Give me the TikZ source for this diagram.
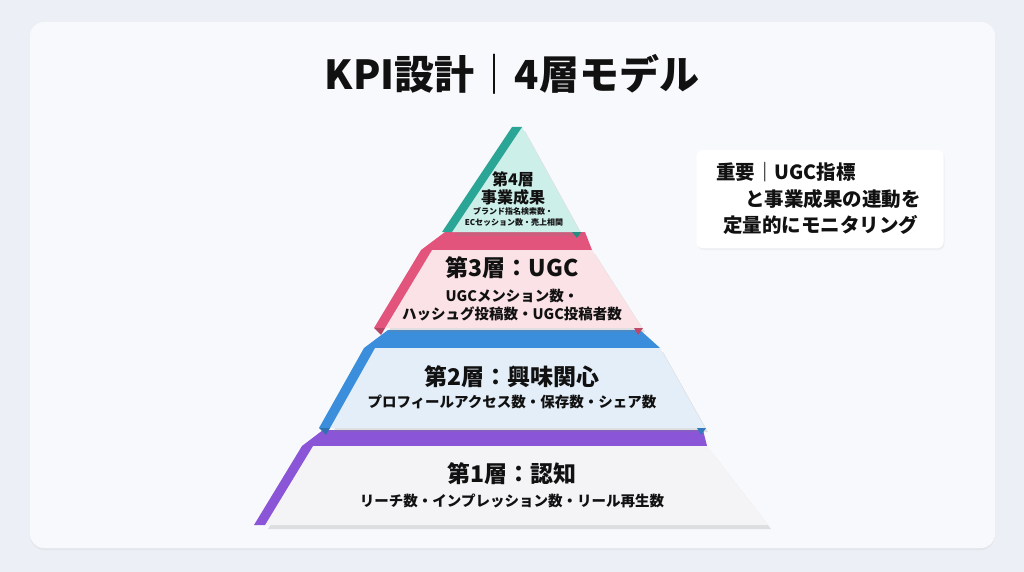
\documentclass[tikz,border=0pt]{standalone}
\usepackage{fontspec}
\setmainfont{Noto Sans CJK JP}
\usetikzlibrary{shadows}

\definecolor{pagebg}{HTML}{EDEFF6}
\definecolor{cardbg}{HTML}{F8F9FC}
\definecolor{tealc}{HTML}{2AA596}
\definecolor{pinkc}{HTML}{E2547C}
\definecolor{bluec}{HTML}{3B8EDC}
\definecolor{purplec}{HTML}{8B55D8}
\definecolor{tealface}{HTML}{CDEFEA}
\definecolor{pinkface}{HTML}{FAE2E6}
\definecolor{blueface}{HTML}{E3EEF8}
\definecolor{purpleface}{HTML}{F4F4F7}
\definecolor{ink}{HTML}{111111}

\tikzset{
    face/.style={drop shadow={shadow xshift=3pt,shadow yshift=-4pt,opacity=0.22}},
    title/.style={font=\bfseries\fontsize{40}{48}\selectfont, text=ink},
    head/.style={font=\bfseries\fontsize{23}{28}\selectfont, text=ink},
    sub/.style={font=\bfseries\fontsize{14.5}{18}\selectfont, text=ink},
    tiny/.style={font=\bfseries\fontsize{8}{10}\selectfont, text=ink},
    notetext/.style={font=\bfseries\fontsize{19.5}{24}\selectfont, text=ink, anchor=west, inner sep=0pt},
}

\begin{document}
\begin{tikzpicture}[x=1pt,y=-1pt]
    \useasboundingbox (0,0) rectangle (1024,572);
    % Background
    \fill[pagebg] (0,0) rectangle (1024,572);
    \fill[cardbg, rounded corners=14pt, drop shadow={shadow xshift=0pt,shadow yshift=-2pt,opacity=0.08}]
        (30,22) rectangle (995,548);

    % Title
    \node[title] (title) at (512,74) {KPI設計｜4層モデル};

    % Layers 1-3: band, strip, face
    % \c/\f = colours, \t/\b = top/bottom, \a/\cc = face top x, \d/\e = face bottom x, \u/\p/\q = band
    \foreach \c/\f/\t/\b/\a/\cc/\d/\e/\u/\p/\q in {
        purplec/purpleface/446/525/313/707/265/768/430/323/703,
        bluec/blueface/348/428/375/660/330/705/330/388/640,
        pinkc/pinkface/250/328/432/592/385/642/232/445/585} {
        \fill[\c] (\p,\u) -- (\q,\u) -- (\cc,\t) -- (\a-11,\t) -- cycle;
        \fill[\f, face] (\a,\t) -- (\cc,\t) -- (\e,\b) -- (\d,\b) -- cycle;
        \fill[\c] (\a-11,\t) -- (\a,\t) -- (\d,\b) -- (\d-11,\b) -- cycle;
    }
    % folds at the bottom corners
    \foreach \c/\b/\d/\e in {bluec/428/330/705, pinkc/328/385/642} {
        \fill[\c!80!black] (\d-11,\b) -- (\d,\b) -- (\d-4,\b+7) -- cycle;
        \fill[\c!85!black] (\e-8,\b) -- (\e+1,\b) -- (\e-4,\b+7) -- cycle;
    }

    % Layer 4 (top)
    \fill[tealface, face] (522,127) -- (580,232) -- (452,232) -- cycle;
    \fill[tealc] (512,127) -- (522,127) -- (452,232) -- (442,232) -- cycle;
    \fill[tealc!85!black] (572,232) -- (581,232) -- (577,238) -- cycle;

    % Layer texts
    \node[font=\bfseries\fontsize{16}{19}\selectfont, text=ink] (l4-head) at (513,179) {第4層};
    \node[font=\bfseries\fontsize{16}{19}\selectfont, text=ink] (l4-name) at (513,197) {事業成果};
    \node[tiny] (l4-sub1) at (513,211) {ブランド指名検索数・};
    \node[tiny] (l4-sub2) at (514,222) {ECセッション数・売上相関};

    \node[head] (l3-head) at (512,268) {第3層：UGC};
    \node[sub] (l3-sub1) at (512,296) {UGCメンション数・};
    \node[sub] (l3-sub2) at (512,314) {ハッシュグ投稿数・UGC投稿者数};

    \node[head] (l2-head) at (512,377) {第2層：興味関心};
    \node[sub] (l2-sub) at (512,402) {プロフィールアクセス数・保存数・シェア数};

    \node[head] (l1-head) at (512,474) {第1層：認知};
    \node[sub] (l1-sub) at (512,501) {リーチ数・インプレッション数・リール再生数};

    % Note box
    \node[fill=white, rounded corners=6pt, minimum width=247pt, minimum height=98pt,
          drop shadow={shadow xshift=1pt,shadow yshift=-2pt,opacity=0.08}] (note) at (820,199) {};
    \node[notetext] (note-1) at (716,172) {重要｜UGC指標};
    \node[notetext] (note-2) at (745,199) {と事業成果の連動を};
    \node[notetext] (note-3) at (723,225) {定量的にモニタリング};
\end{tikzpicture}
\end{document}
